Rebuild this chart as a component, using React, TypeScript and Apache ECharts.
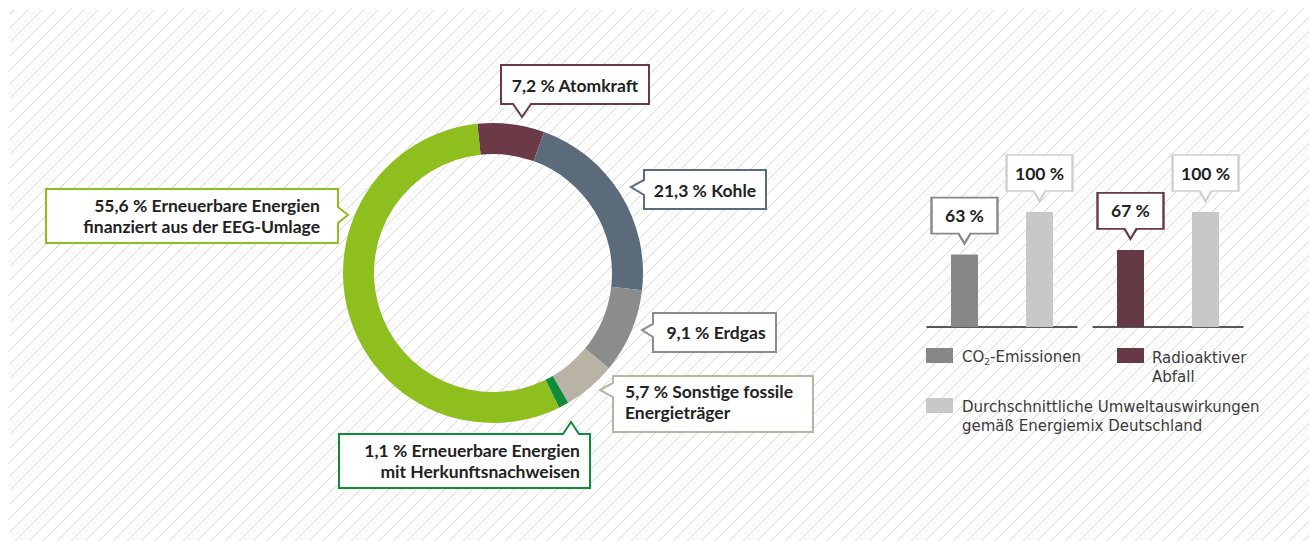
import React, { useEffect, useRef } from "react";
import * as echarts from "echarts";

// ---------- data ----------
const mixNames = [
  "Atomkraft",
  "Kohle",
  "Erdgas",
  "Sonstige fossile\nEnergieträger",
  "Erneuerbare Energien\nmit Herkunftsnachweisen",
  "Erneuerbare Energien\nfinanziert aus der EEG-Umlage",
];
const mixValues = [7.2, 21.3, 9.1, 5.7, 1.1, 55.6];
const mixColors = ["#6b3a46", "#5b6b79", "#8c8c8c", "#b9b3a5", "#0e8c3a", "#8fbf1f"];

const impactNames = ["CO{sub|2}-Emissionen", "Radioaktiver\nAbfall"];
const ownValues = [63, 67];
const avgValues = [100, 100];
const ownColors = ["#878787", "#653a44"];
const avgColor = "#c8c8c8";
const avgName = "Durchschnittliche Umweltauswirkungen\ngemäß Energiemix Deutschland";
const barCategories = ["Strommix", "Durchschnitt"];

// ---------- layout ----------
type Callout = {
  box: [number, number, number, number];
  side: "top" | "bottom" | "left" | "right";
  base: [number, number];
  tip: [number, number];
  text: [number, number];
  align: "left" | "center" | "right";
};
const mixCallouts: Callout[] = [
  { box: [501, 65, 649, 104], side: "bottom", base: [513, 531], tip: [522, 117], text: [575, 85], align: "center" },
  { box: [644, 170, 766, 209], side: "left", base: [180, 195], tip: [631, 187], text: [705, 190], align: "center" },
  { box: [653, 313, 776, 352], side: "left", base: [324, 337], tip: [642, 330], text: [716, 332], align: "center" },
  { box: [613, 376, 813, 432], side: "left", base: [383, 397], tip: [600, 390], text: [625, 402], align: "left" },
  { box: [339, 434, 590, 488], side: "top", base: [563, 579], tip: [571, 422], text: [580, 461], align: "right" },
  { box: [46, 189, 338, 243], side: "right", base: [207, 223], tip: [348, 215], text: [320, 216], align: "right" },
];

const fmtPct = (v: number) => v.toFixed(1).replace(".", ",") + " %";

function calloutPoints(c: Callout): number[][] {
  const [x0, y0, x1, y1] = c.box;
  const [a, b] = c.base;
  const [tx, ty] = c.tip;
  switch (c.side) {
    case "bottom":
      return [[x0, y0], [x1, y0], [x1, y1], [b, y1], [tx, ty], [a, y1], [x0, y1]];
    case "top":
      return [[x0, y0], [a, y0], [tx, ty], [b, y0], [x1, y0], [x1, y1], [x0, y1]];
    case "left":
      return [[x0, y0], [x1, y0], [x1, y1], [x0, y1], [x0, b], [tx, ty], [x0, a]];
    default:
      return [[x0, y0], [x1, y0], [x1, a], [tx, ty], [x1, b], [x1, y1], [x0, y1]];
  }
}

const boldFont = "bold 17.5px Lato";
const legendFont = "15px 'DejaVu Sans'";

export default function App() {
  const ref = useRef<HTMLDivElement>(null);
  useEffect(() => {
    document.body.style.margin = "0";
    const chart = echarts.init(ref.current!, null, { renderer: "svg" });

    // hatch background
    const hatch: any[] = [];
    const X0 = 10, Y0 = 10, X1 = 1309, Y1 = 541, S = 14;
    for (let c = X0 + Y0 + 4; c <= X1 + Y1; c += S) {
      const xa = Math.max(X0, c - Y1);
      const xb = Math.min(X1, c - Y0);
      if (xb <= xa) continue;
      hatch.push({
        type: "line",
        silent: true,
        z: 0,
        shape: { x1: xa, y1: c - xa, x2: xb, y2: c - xb },
        style: { stroke: "#d9d9d9", lineWidth: 1 },
      });
    }

    const callouts: any[] = [];
    mixCallouts.forEach((c, i) => {
      callouts.push({
        type: "polygon",
        silent: true,
        z: 100,
        shape: { points: calloutPoints(c) },
        style: { fill: "#ffffff", stroke: mixColors[i], lineWidth: 2 },
      });
      callouts.push({
        type: "text",
        silent: true,
        z: 101,
        style: {
          text: fmtPct(mixValues[i]) + " " + mixNames[i],
          x: c.text[0],
          y: c.text[1],
          font: boldFont,
          fill: "#222222",
          align: c.align,
          textAlign: c.align,
          verticalAlign: "middle",
          textVerticalAlign: "middle",
          lineHeight: 21,
        },
      });
    });

    // legend
    const legendItems = [
      { color: ownColors[0], text: impactNames[0], sq: [926, 348], tx: [962, 357] },
      { color: ownColors[1], text: impactNames[1], sq: [1117, 348], tx: [1152, 367] },
      { color: avgColor, text: avgName, sq: [926, 398], tx: [962, 416] },
    ];
    const legend: any[] = [];
    legendItems.forEach((l) => {
      legend.push({
        type: "rect",
        silent: true,
        z: 10,
        shape: { x: l.sq[0], y: l.sq[1], width: 27, height: 15 },
        style: { fill: l.color },
      });
      legend.push({
        type: "text",
        silent: true,
        z: 10,
        style: {
          text: l.text,
          x: l.tx[0],
          y: l.tx[1],
          font: legendFont,
          fill: "#3a3a3a",
          align: "left",
          textAlign: "left",
          verticalAlign: "middle",
          textVerticalAlign: "middle",
          lineHeight: 19,
          rich: {
            sub: {
              fontFamily: "DejaVu Sans",
              fontSize: 9,
              fill: "#3a3a3a",
              verticalAlign: "bottom",
              lineHeight: 14,
            },
          },
        },
      });
    });

    const calloutPath = "path://M0,0L66,0L66,36L39,36L33,46L27,36L0,36Z";

    const barSeries = [0, 1].map((g) => ({
      type: "bar",
      xAxisIndex: g,
      yAxisIndex: g,
      barWidth: 27,
      silent: true,
      data: [
        { value: ownValues[g], itemStyle: { color: ownColors[g] } },
        { value: avgValues[g], itemStyle: { color: avgColor } },
      ],
      markPoint: {
        symbol: calloutPath,
        symbolSize: [66, 46],
        symbolOffset: [0, -34],
        silent: true,
        label: {
          show: true,
          position: "inside",
          offset: [0, -5],
          formatter: (p: any) => p.value + " %",
          color: "#222222",
          fontFamily: "Lato",
          fontWeight: "bold",
          fontSize: 17.5,
        },
        data: [
          {
            coord: [0, ownValues[g]],
            value: ownValues[g],
            itemStyle: { color: "#ffffff", borderColor: ownColors[g], borderWidth: 2 },
          },
          {
            coord: [1, avgValues[g]],
            value: avgValues[g],
            itemStyle: { color: "#ffffff", borderColor: "#cfcfcf", borderWidth: 2 },
          },
        ],
      },
    }));

    chart.setOption({
      animation: false,
      graphic: { elements: [...hatch, ...callouts, ...legend] },
      grid: [
        { left: 927, top: 212, width: 150, height: 115 },
        { left: 1093, top: 212, width: 150, height: 115 },
      ],
      xAxis: [0, 1].map((g) => ({
        type: "category",
        gridIndex: g,
        data: barCategories,
        axisLine: { show: true, lineStyle: { color: "#222222", width: 1.5 } },
        axisTick: { show: false },
        axisLabel: { show: false },
      })),
      yAxis: [0, 1].map((g) => ({
        type: "value",
        gridIndex: g,
        min: 0,
        max: 100,
        show: false,
      })),
      series: [
        {
          type: "pie",
          center: [493, 273],
          radius: [119, 150],
          startAngle: 96,
          clockwise: true,
          silent: true,
          label: { show: false },
          labelLine: { show: false },
          data: mixValues.map((v, i) => ({
            value: v,
            name: mixNames[i].replace("\n", " "),
            itemStyle: { color: mixColors[i] },
          })),
        },
        ...barSeries,
      ],
    });
    return () => chart.dispose();
  }, []);
  return <div ref={ref} style={{ width: 1309, height: 541 }} />;
}
